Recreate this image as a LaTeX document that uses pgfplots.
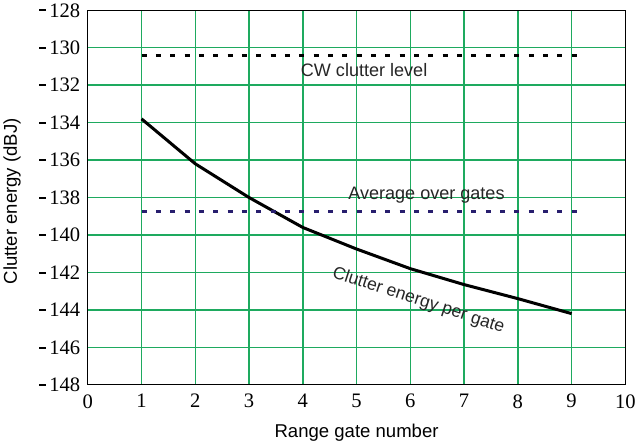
\documentclass[border=0pt]{standalone}
\usepackage{fontspec}
\setmainfont{Liberation Sans}
\newfontfamily\tickfont{Liberation Serif}
\usepackage{pgfplots}
\pgfplotsset{compat=1.18}
\definecolor{gridgreen}{RGB}{30,170,95}
\definecolor{navydot}{RGB}{40,30,110}
\newcommand{\negsign}{\rule[5.5pt]{7pt}{2pt}\hspace{3pt}}
\begin{document}
\begin{tikzpicture}
\begin{axis}[
  scale only axis,
  width=534bp, height=372bp,
  xmin=0, xmax=10, ymin=-148, ymax=-128,
  xtick={0,1,...,10},
  ytick={-148,-146,...,-128},
  yticklabels={\negsign148,\negsign146,\negsign144,\negsign142,\negsign140,\negsign138,\negsign136,\negsign134,\negsign132,\negsign130,\negsign128},
  /pgf/number format/assume math mode=true,
  tick label style={font=\tickfont\fontsize{20.5}{22}\selectfont},
  xticklabel style={anchor=north, yshift=-6pt},
  yticklabel style={anchor=east, xshift=-4pt},
  major tick length=0pt,
  grid=major,
  major grid style={gridgreen, line width=1.4pt},
  axis line style={black, line width=1.4pt},
  xlabel={Range gate number},
  ylabel={Clutter energy (dBJ)},
  label style={font=\fontsize{18.5}{20}\selectfont},
  xlabel style={at={(axis description cs:0.5,-0.128)}, anchor=center},
  ylabel style={at={(axis description cs:-0.141,0.49)}, anchor=center},
]
\addplot[black, line width=3pt, line join=round] coordinates {
 (1,-133.8) (2,-136.2) (3,-138.0) (4,-139.6) (5,-140.75) (6,-141.8) (7,-142.65) (8,-143.4) (9,-144.2)
};
\addplot[black, line width=3.3pt, dash pattern=on 5pt off 9.3pt] coordinates {(1,-130.4) (9.1,-130.4)};
\addplot[navydot, line width=3.3pt, dash pattern=on 5pt off 9.3pt] coordinates {(1,-138.75) (9.1,-138.75)};
\node[font=\fontsize{18}{20}\selectfont, text=black!85] at (axis cs:5.14,-131.2) {CW clutter level};
\node[font=\fontsize{18}{20}\selectfont, text=black!85] at (axis cs:6.3,-137.9) {Average over gates};
\node[font=\fontsize{17.5}{20}\selectfont, text=black!85, rotate=-18] at (axis cs:6.15,-143.5) {Clutter energy per gate};
\end{axis}
\end{tikzpicture}
\end{document}
